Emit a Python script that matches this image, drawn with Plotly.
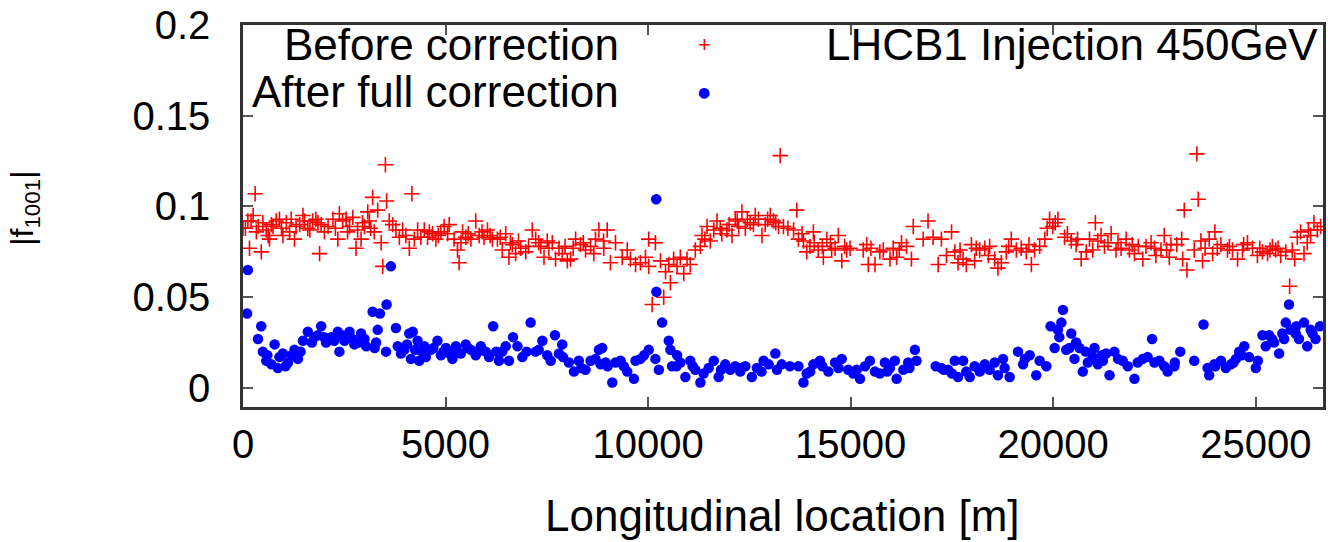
import plotly.graph_objects as go

# ---- data ----
red_x = [0, 60, 120, 160, 200, 250, 300, 330, 380, 450, 490, 575, 620, 655, 700, 740, 820, 900, 950, 985,
         1070, 1150, 1190, 1270, 1310, 1400, 1480, 1520, 1600, 1650, 1720, 1800, 1850, 1890, 1930, 2010, 2100,
         2220, 2280, 2340, 2380, 2460, 2545, 2580, 2630, 2710, 2790, 2830, 2915, 2950, 3000, 3080, 3120, 3150,
         3200, 3240, 3325, 3410, 3450, 3515, 3545, 3610, 3695, 3775, 3860, 3940, 4020, 4105, 4170, 4230, 4310,
         4390, 4475, 4555, 4600, 4680, 4760, 4820, 4885, 4965, 5050, 5090, 5210, 5295, 5335, 5380, 5420, 5500,
         5560, 5625, 5745, 5830, 5900, 5950, 6035, 6100, 6155, 6280, 6350, 6400, 6485, 6565, 6600, 6650, 6730,
         6800, 6855, 6980, 7050, 7140, 7225, 7300, 7350, 7430, 7510, 7550, 7635, 7715, 7800, 7880, 7950, 8005,
         8085, 8150, 8210, 8330, 8400, 8455, 8580, 8660, 8700, 8785, 8900, 8907, 8990, 9070, 9195, 9360, 9485,
         9565, 9690, 9810, 9935, 10015, 10015, 10100, 10180, 10305, 10385, 10430, 10510, 10550, 10630, 10715,
         10795, 10880, 10960, 11040, 11165, 11290, 11330, 11400, 11455, 11535, 11620, 11700, 11780, 11820, 11945,
         12000, 12070, 12150, 12200, 12235, 12315, 12400, 12450, 12520, 12600, 12645, 12725, 12810, 12890, 12950,
         13015, 13095, 13150, 13220, 13260, 13340, 13450, 13590, 13670, 13710, 13800, 13835, 13915, 13995, 14080,
         14100, 14200, 14300, 14325, 14410, 14500, 14530, 14615, 14695, 14780, 14850, 14900, 14985, 15310, 15395,
         15435, 15500, 15600, 15720, 15805, 15970, 16050, 16135, 16200, 16255, 16380, 16500, 16545, 16790, 16910,
         17035, 17160, 17240, 17365, 17490, 17570, 17650, 17700, 17775, 17855, 17980, 18060, 18100, 18185, 18310,
         18400, 18430, 18555, 18635, 18720, 18840, 18900, 18965, 19090, 19210, 19335, 19400, 19460, 19540, 19665,
         19790, 19850, 19910, 19990, 20050, 20115, 20280, 20350, 20445, 20565, 20600, 20690, 20815, 20895, 20975,
         21040, 21100, 21180, 21265, 21350, 21430, 21550, 21600, 21675, 21800, 21880, 21950, 22005, 22100, 22210,
         22290, 22415, 22500, 22535, 22660, 22740, 22800, 22865, 22905, 23050, 23170, 23195, 23235, 23300, 23480,
         23545, 23580, 23645, 23685, 23750, 23850, 23935, 23990, 24050, 24140, 24300, 24350, 24425, 24550, 24670,
         24700, 24795, 24920, 25040, 25100, 25165, 25290, 25350, 25410, 25490, 25550, 25615, 25740, 25835, 25900,
         25960, 26025, 26105, 26190, 26270, 26300, 26355, 26435, 26520, 26600]
red_y = [0.088, 0.088, 0.092, 0.077, 0.092, 0.095, 0.107, 0.086, 0.089, 0.075, 0.091, 0.087, 0.084, 0.082, 0.090,
         0.089, 0.092, 0.093, 0.088, 0.084, 0.091, 0.086, 0.093, 0.082, 0.089, 0.090, 0.095, 0.092, 0.088, 0.087,
         0.092, 0.093, 0.091, 0.074, 0.090, 0.086, 0.089, 0.093, 0.088, 0.082, 0.096, 0.092, 0.093, 0.086, 0.089,
         0.094, 0.077, 0.087, 0.082, 0.091, 0.089, 0.097, 0.092, 0.088, 0.105, 0.086, 0.098, 0.080, 0.067, 0.123,
         0.103, 0.092, 0.090, 0.087, 0.083, 0.087, 0.084, 0.077, 0.107, 0.082, 0.087, 0.083, 0.087, 0.083, 0.086,
         0.085, 0.082, 0.084, 0.086, 0.089, 0.085, 0.090, 0.082, 0.076, 0.069, 0.080, 0.086, 0.083, 0.085, 0.082,
         0.092, 0.084, 0.086, 0.083, 0.087, 0.084, 0.082, 0.082, 0.083, 0.076, 0.085, 0.072, 0.080, 0.079, 0.074,
         0.081, 0.077, 0.075, 0.078, 0.087, 0.082, 0.080, 0.078, 0.072, 0.081, 0.077, 0.080, 0.071, 0.077, 0.074,
         0.078, 0.070, 0.071, 0.077, 0.082, 0.079, 0.080, 0.076, 0.078, 0.074, 0.082, 0.087, 0.081, 0.077, 0.087,
         0.069, 0.080, 0.072, 0.076, 0.071, 0.068, 0.069, 0.072, 0.067, 0.082, 0.046, 0.080, 0.070, 0.050, 0.064,
         0.068, 0.058, 0.071, 0.067, 0.072, 0.063, 0.071, 0.068, 0.076, 0.078, 0.084, 0.082, 0.089, 0.081, 0.087,
         0.092, 0.088, 0.085, 0.087, 0.090, 0.084, 0.093, 0.092, 0.089, 0.097, 0.088, 0.093, 0.091, 0.090, 0.095,
         0.093, 0.084, 0.090, 0.093, 0.095, 0.092, 0.091, 0.089, 0.128, 0.089, 0.088, 0.087, 0.098, 0.082, 0.085,
         0.081, 0.075, 0.078, 0.086, 0.080, 0.076, 0.078, 0.072, 0.082, 0.080, 0.076, 0.077, 0.084, 0.070, 0.078,
         0.076, 0.077, 0.076, 0.079, 0.068, 0.077, 0.068, 0.075, 0.076, 0.071, 0.077, 0.072, 0.076, 0.080, 0.078,
         0.071, 0.089, 0.082, 0.092, 0.083, 0.068, 0.082, 0.073, 0.086, 0.075, 0.069, 0.076, 0.071, 0.068, 0.079,
         0.070, 0.077, 0.076, 0.077, 0.073, 0.078, 0.071, 0.066, 0.069, 0.075, 0.078, 0.082, 0.076, 0.077, 0.075,
         0.079, 0.068, 0.076, 0.078, 0.082, 0.088, 0.093, 0.089, 0.091, 0.093, 0.083, 0.085, 0.081, 0.079, 0.082,
         0.071, 0.075, 0.082, 0.076, 0.091, 0.081, 0.084, 0.078, 0.080, 0.085, 0.076, 0.080, 0.077, 0.082, 0.076,
         0.079, 0.074, 0.078, 0.071, 0.078, 0.080, 0.077, 0.073, 0.076, 0.084, 0.076, 0.072, 0.079, 0.079, 0.082,
         0.071, 0.098, 0.065, 0.076, 0.129, 0.104, 0.081, 0.070, 0.077, 0.082, 0.074, 0.086, 0.077, 0.079, 0.076,
         0.078, 0.076, 0.071, 0.076, 0.079, 0.080, 0.077, 0.073, 0.077, 0.075, 0.074, 0.076, 0.078, 0.076, 0.077,
         0.073, 0.075, 0.056, 0.076, 0.071, 0.083, 0.086, 0.074, 0.080, 0.087, 0.084, 0.091, 0.087, 0.089]

blue_x = [100, 120, 370, 450, 490, 575, 600, 700, 780, 860, 900, 985, 1050, 1110, 1200, 1270, 1355, 1420, 1480,
          1600, 1700, 1765, 1850, 1930, 2000, 2050, 2175, 2250, 2340, 2380, 2450, 2505, 2630, 2700, 2750, 2850,
          2915, 3000, 3040, 3200, 3250, 3285, 3325, 3380, 3530, 3545, 3650, 3775, 3820, 3900, 3980, 4050, 4105,
          4145, 4190, 4250, 4310, 4350, 4420, 4475, 4515, 4640, 4700, 4800, 4885, 4950, 5010, 5100, 5170, 5255,
          5300, 5375, 5500, 5550, 5625, 5745, 5800, 5870, 5995, 6075, 6175, 6250, 6320, 6400, 6485, 6565, 6665,
          6775, 6895, 7000, 7100, 7225, 7300, 7390, 7510, 7595, 7700, 7800, 7880, 7900, 8045, 8170, 8290, 8350,
          8455, 8580, 8700, 8785, 8825, 8867, 8950, 9000, 9115, 9195, 9320, 9400, 9485, 9650, 9690, 9810, 9900,
          10015, 10180, 10200, 10205, 10265, 10345, 10510, 10550, 10590, 10700, 10715, 10795, 10920, 11040, 11100,
          11165, 11290, 11370, 11495, 11620, 11740, 11800, 11905, 12030, 12150, 12275, 12300, 12400, 12560, 12685,
          12800, 12850, 12975, 13140, 13180, 13300, 13500, 13710, 13835, 13915, 14000, 14080, 14240, 14300, 14450,
          14615, 14700, 14780, 14940, 15065, 15150, 15230, 15355, 15475, 15600, 15720, 15845, 15900, 15970, 16090,
          16135, 16300, 16420, 16450, 16585, 16625, 17100, 17240, 17300, 17405, 17500, 17570, 17650, 17775, 17855,
          17940, 18060, 18185, 18250, 18310, 18430, 18555, 18635, 18760, 18800, 18925, 19130, 19255, 19300, 19420,
          19580, 19665, 19830, 19935, 20035, 20115, 20150, 20200, 20240, 20320, 20400, 20445, 20525, 20565, 20650,
          20730, 20800, 20855, 20975, 21020, 21100, 21200, 21225, 21305, 21390, 21510, 21600, 21715, 21840, 22005,
          22085, 22210, 22330, 22440, 22500, 22620, 22740, 22825, 22990, 23000, 23135, 23480, 23710, 23810, 23850,
          23975, 24000, 24140, 24260, 24385, 24450, 24510, 24590, 24650, 24715, 24835, 25000, 25050, 25165, 25245,
          25330, 25400, 25450, 25575, 25655, 25700, 25740, 25820, 25860, 25985, 26000, 26065, 26190, 26270, 26355,
          26400, 26475, 26585]
blue_y = [0.041, 0.065, 0.027, 0.034, 0.020, 0.015, 0.018, 0.013, 0.024, 0.011, 0.017, 0.019, 0.012, 0.014, 0.018,
          0.021, 0.016, 0.020, 0.026, 0.031, 0.025, 0.028, 0.029, 0.034, 0.028, 0.025, 0.028, 0.026, 0.031, 0.020,
          0.029, 0.026, 0.031, 0.027, 0.024, 0.025, 0.030, 0.027, 0.023, 0.042, 0.022, 0.025, 0.032, 0.041, 0.020,
          0.046, 0.067, 0.033, 0.023, 0.019, 0.021, 0.024, 0.030, 0.016, 0.031, 0.021, 0.026, 0.015, 0.020, 0.023,
          0.017, 0.021, 0.022, 0.026, 0.018, 0.020, 0.022, 0.019, 0.016, 0.023, 0.020, 0.019, 0.024, 0.022, 0.021,
          0.018, 0.020, 0.023, 0.020, 0.017, 0.034, 0.020, 0.015, 0.020, 0.023, 0.015, 0.028, 0.023, 0.017, 0.020,
          0.036, 0.020, 0.021, 0.026, 0.018, 0.015, 0.029, 0.019, 0.024, 0.017, 0.014, 0.009, 0.015, 0.011, 0.010,
          0.015, 0.016, 0.021, 0.013, 0.022, 0.014, 0.012, 0.003, 0.014, 0.015, 0.012, 0.009, 0.005, 0.015, 0.016,
          0.018, 0.021, 0.016, 0.104, 0.053, 0.010, 0.036, 0.026, 0.021, 0.012, 0.012, 0.018, 0.014, 0.006, 0.015,
          0.012, 0.010, 0.003, 0.008, 0.011, 0.015, 0.006, 0.010, 0.013, 0.010, 0.012, 0.009, 0.011, 0.012, 0.006,
          0.011, 0.009, 0.015, 0.013, 0.019, 0.010, 0.013, 0.012, 0.012, 0.003, 0.008, 0.009, 0.013, 0.015, 0.012,
          0.009, 0.014, 0.011, 0.016, 0.010, 0.008, 0.010, 0.005, 0.012, 0.015, 0.009, 0.008, 0.014, 0.009, 0.011,
          0.015, 0.005, 0.010, 0.014, 0.011, 0.021, 0.015, 0.012, 0.011, 0.010, 0.010, 0.008, 0.015, 0.006, 0.015,
          0.009, 0.006, 0.012, 0.009, 0.011, 0.013, 0.010, 0.014, 0.007, 0.016, 0.011, 0.006, 0.020, 0.013, 0.016,
          0.018, 0.007, 0.015, 0.012, 0.034, 0.022, 0.032, 0.028, 0.036, 0.043, 0.021, 0.022, 0.030, 0.016, 0.025,
          0.022, 0.009, 0.020, 0.014, 0.017, 0.022, 0.013, 0.018, 0.015, 0.019, 0.007, 0.020, 0.016, 0.015, 0.012,
          0.005, 0.014, 0.016, 0.017, 0.027, 0.014, 0.015, 0.012, 0.009, 0.012, 0.014, 0.020, 0.015, 0.035, 0.011,
          0.007, 0.013, 0.012, 0.015, 0.011, 0.013, 0.014, 0.016, 0.020, 0.018, 0.023, 0.017, 0.011, 0.015, 0.029,
          0.023, 0.029, 0.027, 0.025, 0.019, 0.030, 0.027, 0.036, 0.046, 0.032, 0.030, 0.034, 0.027, 0.036, 0.023,
          0.032, 0.030, 0.027, 0.034]

series_names = ["Before correction", "After full correction"]
title_text = "LHCB1 Injection 450GeV"
x_label = "Longitudinal location [m]"
y_label = "|f<sub>1001</sub>|"
x_ticks = [0, 5000, 10000, 15000, 20000, 25000]
y_ticks = [0, 0.05, 0.1, 0.15, 0.2]

FONT = "Liberation Sans"
FS = 40       # tick labels
FS_TXT = 44   # axis title, key and label texts

fig = go.Figure()
fig.add_trace(go.Scatter(x=red_x, y=red_y, mode="markers", name=series_names[0],
                         marker=dict(symbol="cross-thin", size=11, color="#ff0000",
                                     line=dict(color="#ff0000", width=1.6))))
fig.add_trace(go.Scatter(x=blue_x, y=blue_y, mode="markers", name=series_names[1],
                         marker=dict(symbol="circle", size=10.5, color="#0000ff", line=dict(width=0))))

axis_common = dict(showline=True, linecolor="#333333", linewidth=2.5, mirror="ticks",
                   ticks="inside", ticklen=10, tickwidth=1.5, tickcolor="#555555",
                   showgrid=False, zeroline=False,
                   tickfont=dict(family=FONT, size=FS, color="#000000"))

fig.update_layout(
    width=1328, height=542,
    margin=dict(l=243, r=2, t=25, b=135),
    paper_bgcolor="white", plot_bgcolor="white",
    showlegend=False,
    font=dict(family=FONT, size=FS, color="#000000"),
    xaxis=dict(range=[0, 26659], tickvals=x_ticks, ticktext=[str(v) for v in x_ticks],
               ticklabelstandoff=0, **axis_common),
    yaxis=dict(range=[-0.0105, 0.2], tickvals=y_ticks,
               ticktext=["0", "0.05", "0.1", "0.15", "0.2"],
               ticklabelstandoff=22, **axis_common),
)

ann = [
    dict(text=series_names[0], x=0.350, y=0.948, xanchor="right", yanchor="middle"),
    dict(text=series_names[1], x=0.350, y=0.825, xanchor="right", yanchor="middle"),
    dict(text=title_text, x=0.997, y=0.948, xanchor="right", yanchor="middle"),
    dict(text=x_label, x=0.4995, y=-0.283, xanchor="center", yanchor="middle"),
    dict(text=y_label, x=-0.202, y=0.521, xanchor="center", yanchor="middle", textangle=-90,
         font=dict(family=FONT, size=32, color="#000000")),
    dict(text="+", x=0.427, y=0.948, xanchor="center", yanchor="middle",
         font=dict(family=FONT, size=22, color="#ff0000")),
    dict(text="●", x=0.427, y=0.825, xanchor="center", yanchor="middle",
         font=dict(family="DejaVu Sans", size=14, color="#0000ff")),
]
for a in ann:
    a.setdefault("font", dict(family=FONT, size=FS_TXT, color="#000000"))
    fig.add_annotation(xref="paper", yref="paper", showarrow=False, **a)

fig.write_html("out.html")
